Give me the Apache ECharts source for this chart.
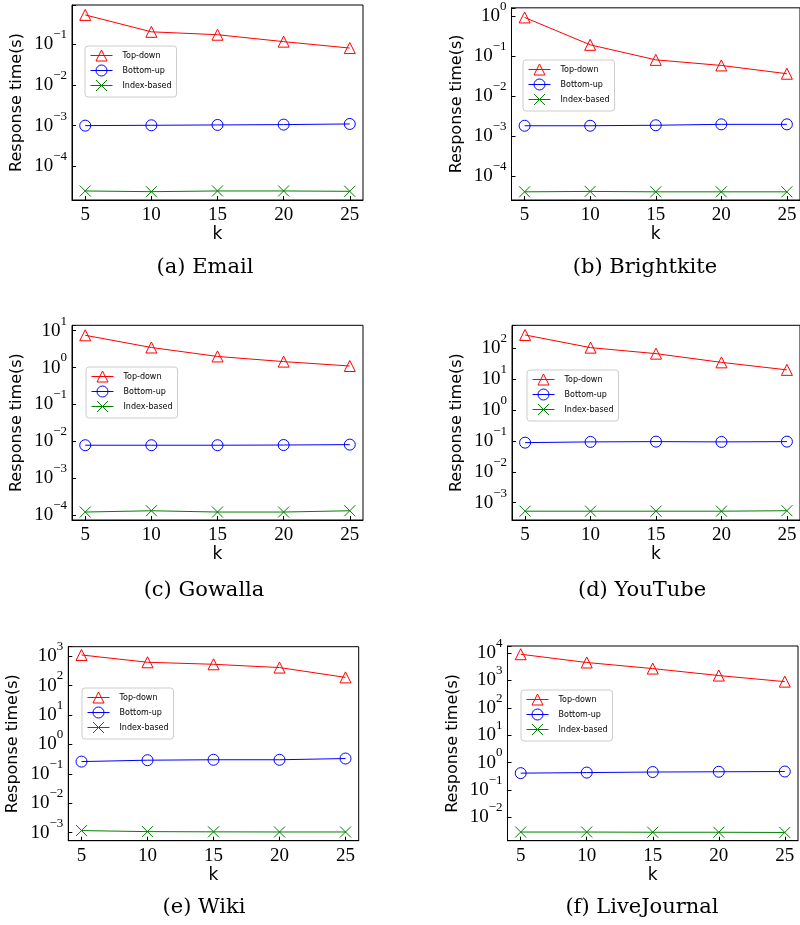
<!DOCTYPE html>
<html>
<head>
<meta charset="utf-8">
<script src="https://cdn.jsdelivr.net/npm/echarts@6/dist/echarts.min.js"></script>
<style>
  html, body { margin: 0; padding: 0; background: #fff; }
  #chart { width: 800px; height: 925px; }
</style>
</head>
<body>
<div id="chart"></div>
<script>
// k values on the x axis
var ks = [5, 10, 15, 20, 25];
var seriesNames = ['Top-down', 'Bottom-up', 'Index-based'];

// response times (s)
var emailTop = [0.52, 0.20, 0.17, 0.115, 0.08];
var emailBottom = [1.0e-3, 1.02e-3, 1.04e-3, 1.06e-3, 1.1e-3];
var emailIndex = [2.5e-5, 2.4e-5, 2.5e-5, 2.5e-5, 2.45e-5];

var brightTop = [0.92, 0.19, 0.08, 0.058, 0.036];
var brightBottom = [1.8e-3, 1.8e-3, 1.85e-3, 1.95e-3, 1.95e-3];
var brightIndex = [4.0e-5, 4.1e-5, 4.0e-5, 4.0e-5, 4.0e-5];

var gowallaTop = [7.5, 3.5, 2.0, 1.45, 1.1];
var gowallaBottom = [7.8e-3, 7.8e-3, 7.8e-3, 7.9e-3, 8.1e-3];
var gowallaIndex = [1.2e-4, 1.3e-4, 1.2e-4, 1.2e-4, 1.3e-4];

var youtubeTop = [270, 105, 67, 35, 20];
var youtubeBottom = [0.088, 0.093, 0.095, 0.093, 0.095];
var youtubeIndex = [5.3e-4, 5.3e-4, 5.3e-4, 5.3e-4, 5.5e-4];

var wikiTop = [1100, 620, 530, 410, 190];
var wikiBottom = [0.26, 0.29, 0.30, 0.30, 0.33];
var wikiIndex = [1.17e-3, 1.08e-3, 1.06e-3, 1.05e-3, 1.05e-3];

var ljTop = [9000, 4500, 2700, 1500, 900];
var ljBottom = [0.41, 0.43, 0.45, 0.46, 0.47];
var ljIndex = [2.9e-3, 2.9e-3, 2.85e-3, 2.85e-3, 2.8e-3];

var captions = ['(a) Email', '(b) Brightkite', '(c) Gowalla', '(d) YouTube', '(e) Wiki', '(f) LiveJournal'];

var panels = [
  { data: [emailTop, emailBottom, emailIndex], yMin: 1.5e-5, yMax: 0.91,
    grid: [72, 5, 291, 195], legend: [85, 46], cap: [200, 252] },
  { data: [brightTop, brightBottom, brightIndex], yMin: 2.5e-5, yMax: 1.6,
    grid: [511.5, 5, 291, 195], legend: [523, 60], cap: [640, 252] },
  { data: [gowallaTop, gowallaBottom, gowallaIndex], yMin: 7.3e-5, yMax: 14,
    grid: [72, 325.3, 291, 194.7], legend: [86, 367], cap: [199, 575] },
  { data: [youtubeTop, youtubeBottom, youtubeIndex], yMin: 2.75e-4, yMax: 555,
    grid: [512, 325.3, 291, 194.7], legend: [527, 370], cap: [637, 575] },
  { data: [wikiTop, wikiBottom, wikiIndex], yMin: 5.3e-4, yMax: 2100,
    grid: [68.3, 646.7, 290.4, 194], legend: [82, 688], cap: [199, 892] },
  { data: [ljTop, ljBottom, ljIndex], yMin: 1.4e-3, yMax: 18000,
    grid: [507.5, 646, 290.5, 194.7], legend: [521, 690], cap: [637, 892] }
];

var colors = ['#ff0000', '#0000ff', '#008000'];
var symbols = ['triangle', 'circle', 'path://M0,0L10,10M0,10L10,0'];
// legend icons: a short line with the marker drawn over it
var legendIcons = [
  'path://M0,5.5L22,5.5M11,0L16.5,11L5.5,11Z',
  'path://M0,5.5L22,5.5M16.5,5.5A5.5,5.5,0,1,1,5.5,5.5A5.5,5.5,0,1,1,16.5,5.5Z',
  'path://M0,5.5L22,5.5M5.5,0L16.5,11M5.5,11L16.5,0'
];
var serif = 'Liberation Serif';
var capSerif = 'DejaVu Serif';
var sans = 'DejaVu Sans';

function powLabel(v) {
  var e = Math.log(v) / Math.LN10;
  var r = Math.round(e);
  if (Math.abs(e - r) > 1e-6) return '';
  var s = r < 0 ? '\u2212' + (-r) : String(r);
  return '{b|10}{s|' + s + '}';
}

var option = {
  backgroundColor: '#fff',
  animation: false,
  title: [],
  grid: [],
  xAxis: [],
  yAxis: [],
  legend: [],
  series: []
};

panels.forEach(function (p, i) {
  option.grid.push({
    left: p.grid[0], top: p.grid[1], width: p.grid[2], height: p.grid[3],
    show: true, borderColor: '#000', borderWidth: 1, containLabel: false
  });
  option.xAxis.push({
    type: 'value', gridIndex: i, min: 4, max: 26,
    name: 'k', nameLocation: 'middle', nameGap: 25,
    nameTextStyle: { fontFamily: sans, fontSize: 17, color: '#000' },
    axisLine: { lineStyle: { color: '#000', width: 1 } },
    axisTick: { inside: true, length: 4, lineStyle: { color: '#000' } },
    splitLine: { show: false },
    axisLabel: {
      showMinLabel: false, showMaxLabel: false, margin: 6,
      fontFamily: serif, fontSize: 19, color: '#000'
    }
  });
  option.yAxis.push({
    type: 'log', logBase: 10, gridIndex: i, min: p.yMin, max: p.yMax,
    name: 'Response time(s)', nameLocation: 'middle', nameGap: 47,
    nameTextStyle: { fontFamily: sans, fontSize: 16, color: '#000' },
    axisLine: { lineStyle: { color: '#000', width: 1 } },
    axisTick: { inside: true, length: 4, lineStyle: { color: '#000' } },
    splitLine: { show: false },
    axisLabel: {
      margin: 5, color: '#000', formatter: powLabel,
      rich: {
        b: { fontFamily: serif, fontSize: 19, lineHeight: 32, verticalAlign: 'middle', color: '#000' },
        s: { fontFamily: serif, fontSize: 13, lineHeight: 12, verticalAlign: 'top', color: '#000' }
      }
    }
  });
  option.legend.push({
    left: p.legend[0], top: p.legend[1], orient: 'vertical',
    data: seriesNames.map(function (n, j) {
      return { name: n, icon: legendIcons[j],
        itemStyle: { color: 'rgba(0,0,0,0)', borderColor: colors[j], borderWidth: 1 } };
    }),
    itemWidth: 22, itemHeight: 11, itemGap: 3,
    padding: [3.5, 5, 5.5, 5],
    backgroundColor: 'rgba(255,255,255,0.8)', borderColor: '#cccccc', borderWidth: 1, borderRadius: 3,
    selectedMode: false,
    textStyle: { fontFamily: sans, fontSize: 8, color: '#000', padding: [0, 0, 0, 5] }
  });
  option.title.push({
    text: captions[i], left: p.cap[0], top: p.cap[1], textAlign: 'center',
    textStyle: { fontFamily: capSerif, fontSize: 21, fontWeight: 'normal', color: '#000' }
  });
  p.data.forEach(function (vals, j) {
    option.series.push({
      name: seriesNames[j], type: 'line', xAxisIndex: i, yAxisIndex: i,
      data: ks.map(function (k, n) { return [k, vals[n]]; }),
      symbol: symbols[j], symbolSize: 11,
      itemStyle: { color: 'rgba(0,0,0,0)', borderColor: colors[j], borderWidth: 1 },
      lineStyle: { color: colors[j], width: 1 },
      emphasis: { disabled: true },
      silent: true
    });
  });
});

var myChart = echarts.init(document.getElementById('chart'));
myChart.setOption(option);
</script>
</body>
</html>
